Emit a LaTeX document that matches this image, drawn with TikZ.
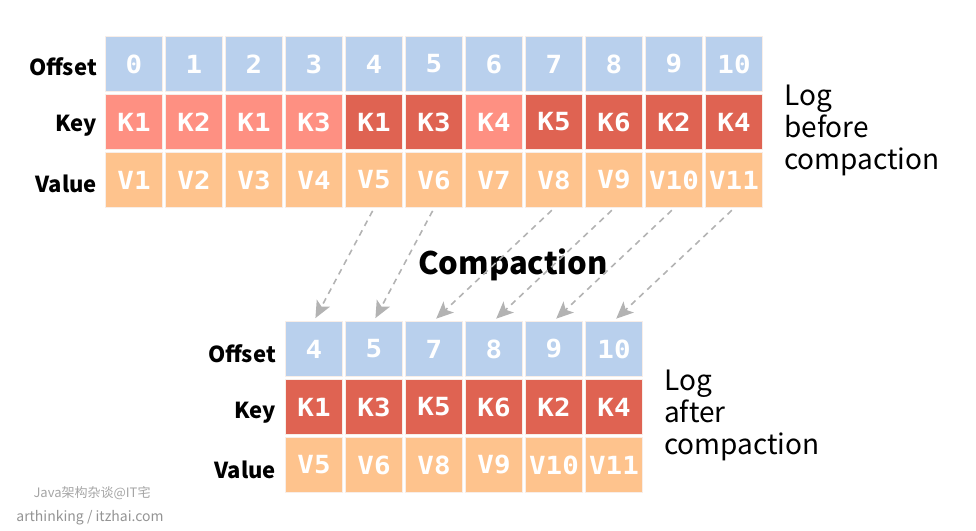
\documentclass[tikz,border=0pt]{standalone}
\usepackage{fontspec}
\setmainfont{Noto Sans CJK SC}
\newfontfamily\cellfont[FakeStretch=1.1]{DejaVu Sans Mono}
\usetikzlibrary{arrows.meta}

\definecolor{offblue}{HTML}{B9D0ED}
\definecolor{keypale}{HTML}{FE9082}
\definecolor{keydeep}{HTML}{DF6352}
\definecolor{valorange}{HTML}{FEC38D}
\definecolor{cellrim}{HTML}{F8EEE8}
\definecolor{movegray}{HTML}{B3B3B3}
\definecolor{markgray}{HTML}{A5A5A5}

\tikzset{
  cell/.style={minimum width=57pt, minimum height=55pt, inner sep=0pt,
    draw=cellrim, line width=1.5pt, text=white,
    font=\cellfont\bfseries\fontsize{25}{25}\selectfont},
  offcell/.style={cell, fill=offblue},
  oldkey/.style={cell, fill=keypale},
  livekey/.style={cell, fill=keydeep},
  valcell/.style={cell, fill=valorange},
  rowlabel/.style={anchor=east, inner sep=0pt, font=\bfseries\fontsize{22}{22}\selectfont},
  logtext/.style={anchor=north west, inner sep=0pt, align=left,
    font=\fontsize{28}{32}\selectfont},
  move/.style={draw=movegray, line width=1.6pt, dash pattern=on 6pt off 5pt,
    -{Stealth[length=17pt, width=15pt, inset=4pt]}, shorten <=3pt, shorten >=3pt},
}

\begin{document}
\begin{tikzpicture}[x=1pt, y=-1pt]
\useasboundingbox (0,0) rectangle (976,530);

% log before compaction
\node[rowlabel] (toffl) at (97,67) {Offset};
\node[rowlabel] (tkeyl) at (97,126) {Key};
\node[rowlabel] (tvall) at (97,184) {Value};
\foreach \i/\k/\ks in {0/K1/oldkey, 1/K2/oldkey, 2/K1/oldkey, 3/K3/oldkey,
    4/K1/livekey, 5/K3/livekey, 6/K4/oldkey, 7/K5/livekey, 8/K6/livekey,
    9/K2/livekey, 10/K4/livekey} {
  \pgfmathtruncatemacro{\v}{\i+1}
  \node[offcell] (to\i) at (134+60*\i,64) {\i};
  \node[\ks] (tk\i) at (134+60*\i,122) {\k};
  \node[valcell] (tv\i) at (134+60*\i,180) {V\v};
}
\node[logtext] (tlog) at (784,85) {Log\\before\\compaction};

\node[font=\bfseries\fontsize{31}{31}\selectfont] (comp) at (513,265) {Compaction};

% log after compaction
\node[rowlabel] (boffl) at (276,354) {Offset};
\node[rowlabel] (bkeyl) at (276,413) {Key};
\node[rowlabel] (bvall) at (276,470) {Value};
\foreach \j/\o/\k/\v in {0/4/K1/V5, 1/5/K3/V6, 2/7/K5/V8, 3/8/K6/V9,
    4/9/K2/V10, 5/10/K4/V11} {
  \node[offcell] (bo\j) at (314+60*\j,349) {\o};
  \node[livekey] (bk\j) at (314+60*\j,407) {\k};
  \node[valcell] (bv\j) at (314+60*\j,465) {\v};
}
\node[logtext] (blog) at (664,370) {Log\\after\\compaction};

% kept records
\draw[move] (tv4.south) -- (bo0.north);
\draw[move] (tv5.south) -- (bo1.north);
\draw[move] (tv7.south) -- (bo2.north);
\draw[move] (tv8.south) -- (bo3.north);
\draw[move] (tv9.south) -- (bo4.north);
\draw[move] (tv10.south) -- (bo5.north);

% watermark
\node[text=markgray, font=\fontsize{13}{13}\selectfont] (mark1) at (92,493) {Java架构杂谈@IT宅};
\node[text=markgray!90!black, font=\fontsize{14}{14}\selectfont] (mark2) at (90,518) {arthinking / itzhai.com};
\end{tikzpicture}
\end{document}
